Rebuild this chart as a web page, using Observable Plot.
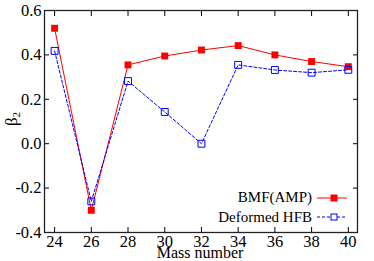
<!DOCTYPE html>
<html>
<head>
<meta charset="utf-8">
<script src="https://cdn.jsdelivr.net/npm/d3@7"></script>
<script src="https://cdn.jsdelivr.net/npm/@observablehq/plot@0.6"></script>
<style>
  html, body { margin: 0; padding: 0; background: #fff; }
  #wrap { position: relative; width: 374px; height: 261px; font-family: "Liberation Serif", "Times New Roman", Times, serif; color: #000; }
  #ylab { position: absolute; left: 12px; top: 119px; transform: translate(-50%, -50%) rotate(-90deg); font-size: 17px; white-space: nowrap; }
  #ylab sub { font-size: 11px; vertical-align: -3px; }
  #xlab { position: absolute; left: 200px; top: 244px; transform: translateX(-50%); font-size: 16px; white-space: nowrap; line-height: 17px; }
  #legend { position: absolute; right: 27px; top: 188px; font-size: 15px; }
  .row { display: flex; align-items: center; justify-content: flex-end; height: 19.5px; }
  .row svg { margin-left: 5px; }
</style>
</head>
<body>
<div id="wrap"></div>
<script>
const masses = [24, 26, 28, 30, 32, 34, 36, 38, 40];
const bmfAmp = [0.52, -0.30, 0.355, 0.395, 0.422, 0.442, 0.40, 0.37, 0.347];
const deformedHfb = [0.418, -0.26, 0.282, 0.143, 0.0, 0.355, 0.332, 0.32, 0.333];
const xTicks = [24, 26, 28, 30, 32, 34, 36, 38, 40];
const yTicks = [-0.4, -0.2, 0.0, 0.2, 0.4, 0.6];
const seriesNames = ["BMF(AMP)", "Deformed HFB"];
const xLabel = "Mass number";

const bmfData = masses.map((m, i) => ({mass: m, beta: bmfAmp[i]}));
const hfbData = masses.map((m, i) => ({mass: m, beta: deformedHfb[i]}));

const serif = "'Liberation Serif', 'Times New Roman', Times, serif";

const chart = Plot.plot({
  width: 374,
  height: 261,
  marginLeft: 44,
  marginRight: 17,
  marginTop: 10,
  marginBottom: 29,
  style: { fontFamily: serif, fontSize: "16.5px", color: "#000", background: "transparent" },
  x: { domain: [23.45, 40.5] },
  y: { domain: [-0.4, 0.6] },
  marks: [
    Plot.axisX({ anchor: "bottom", ticks: xTicks, tickSize: -5, tickPadding: 8, tickFormat: d => String(d), label: null, fontSize: 16.5 }),
    Plot.axisX({ anchor: "top", ticks: xTicks, tickSize: -5, tickFormat: () => "", label: null }),
    Plot.axisY({ anchor: "left", ticks: yTicks, tickSize: -5, tickPadding: 8, tickFormat: d => d.toFixed(1), label: null, fontSize: 16.5 }),
    Plot.axisY({ anchor: "right", ticks: yTicks, tickSize: -5, tickFormat: () => "", label: null }),
    Plot.frame({ stroke: "#222", strokeWidth: 1.3 }),
    Plot.line(bmfData, { x: "mass", y: "beta", stroke: "#ff0000", strokeWidth: 1 }),
    Plot.line(hfbData, { x: "mass", y: "beta", stroke: "#0000ff", strokeWidth: 1, strokeDasharray: "3,2" }),
    Plot.dot(bmfData, { x: "mass", y: "beta", symbol: "square", r: 3.9, fill: "#ff0000", stroke: "none" }),
    Plot.dot(hfbData, { x: "mass", y: "beta", symbol: "square", r: 3.9, fill: "none", stroke: "#0000ff", strokeWidth: 1 })
  ]
});

chart.querySelectorAll("text").forEach(t => {
  t.style.setProperty("font-family", serif, "important");
  t.style.setProperty("font-size", "16.5px", "important");
  t.style.setProperty("fill", "#000", "important");
});

const wrap = document.getElementById("wrap");
wrap.appendChild(chart);

const ylab = document.createElement("div");
ylab.id = "ylab";
ylab.innerHTML = "β<sub>2</sub>";
wrap.appendChild(ylab);

const xlab = document.createElement("div");
xlab.id = "xlab";
xlab.textContent = xLabel;
wrap.appendChild(xlab);

const legend = document.createElement("div");
legend.id = "legend";
legend.innerHTML = `
  <div class="row"><span>${seriesNames[0]}</span>
    <svg width="30" height="10"><line x1="0" y1="5" x2="30" y2="5" stroke="#ff0000" stroke-width="1"/><rect x="13.5" y="1.5" width="7" height="7" fill="#ff0000"/></svg></div>
  <div class="row"><span>${seriesNames[1]}</span>
    <svg width="30" height="10"><line x1="0" y1="5" x2="30" y2="5" stroke="#0000ff" stroke-width="1" stroke-dasharray="3,2"/><rect x="14" y="2" width="6" height="6" fill="#fff" stroke="#0000ff" stroke-width="1"/></svg></div>`;
wrap.appendChild(legend);
</script>
</body>
</html>
